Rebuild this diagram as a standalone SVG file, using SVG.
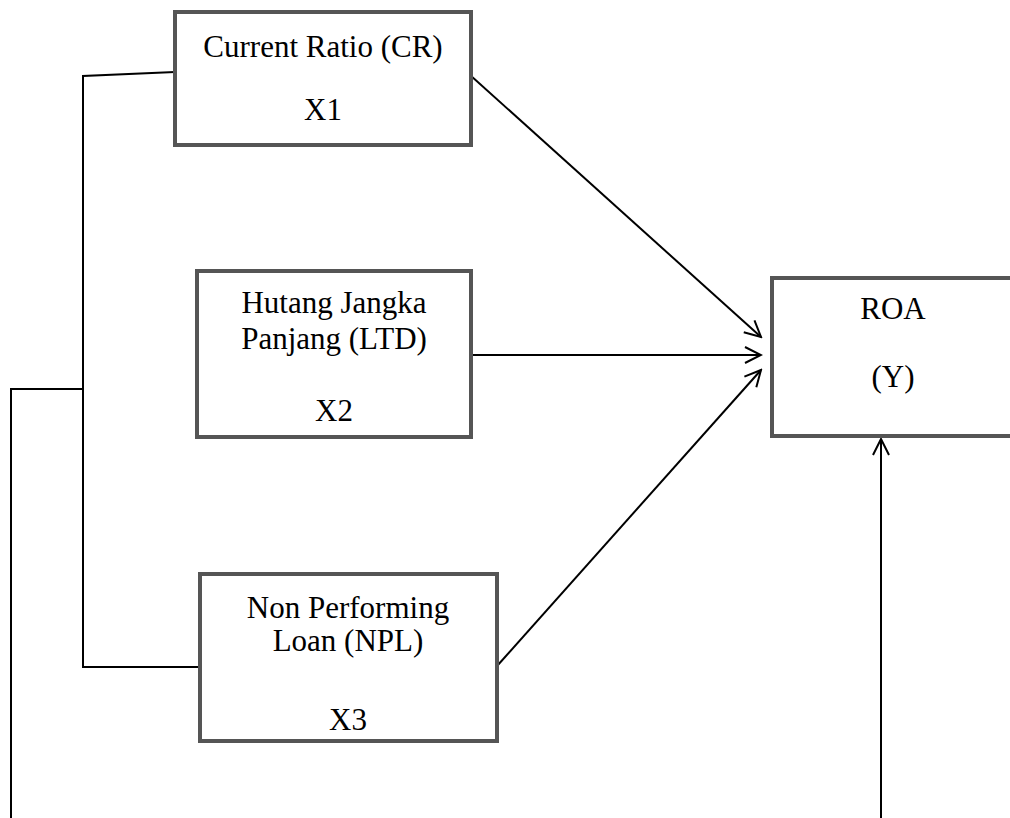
<svg xmlns="http://www.w3.org/2000/svg" width="1010" height="818" viewBox="0 0 1010 818">
<style>
.box{fill:#fff;stroke:#555;stroke-width:4}
.t{font-family:"Liberation Serif","Times New Roman",serif;font-size:31px;fill:#000;text-anchor:middle}
.ln{fill:none;stroke:#000;stroke-width:2}
</style>
<defs>
<marker id="ah" viewBox="0 0 20 20" refX="18" refY="10" markerWidth="20" markerHeight="20" markerUnits="userSpaceOnUse" orient="auto">
<path d="M2,2 L18,10 L2,18" fill="none" stroke="#000" stroke-width="2"/>
</marker>
</defs>
<rect width="1010" height="818" fill="#fff"/>
<g id="connectors">
<polyline class="ln" points="175,72 83,76 83,667 198,667"/>
<polyline class="ln" points="83,389 11,389 11,818"/>
<line class="ln" x1="470" y1="75" x2="761" y2="337" marker-end="url(#ah)"/>
<line class="ln" x1="472" y1="355" x2="761" y2="355" marker-end="url(#ah)"/>
<line class="ln" x1="497" y1="666" x2="761" y2="370" marker-end="url(#ah)"/>
<line class="ln" x1="881" y1="818" x2="881" y2="439" marker-end="url(#ah)"/>
</g>
<g id="n1">
<rect class="box" x="175" y="12" width="296" height="133"/>
<text class="t" x="323" y="57">Current Ratio (CR)</text>
<text class="t" x="323" y="120">X1</text>
</g>
<g id="n2">
<rect class="box" x="197" y="271" width="274" height="166"/>
<text class="t" x="334" y="313">Hutang Jangka</text>
<text class="t" x="334" y="349">Panjang (LTD)</text>
<text class="t" x="334" y="421">X2</text>
</g>
<g id="n3">
<rect class="box" x="200" y="574" width="297" height="167"/>
<text class="t" x="348" y="618">Non Performing</text>
<text class="t" x="348" y="651">Loan (NPL)</text>
<text class="t" x="348" y="730">X3</text>
</g>
<g id="y">
<rect class="box" x="772" y="278" width="250" height="158"/>
<text class="t" x="893" y="319">ROA</text>
<text class="t" x="893" y="387">(Y)</text>
</g>
</svg>
